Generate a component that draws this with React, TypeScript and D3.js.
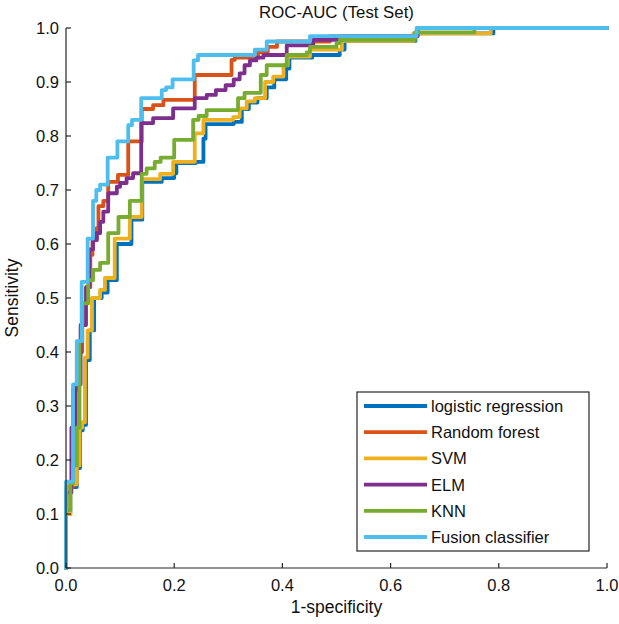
import React from "react";
import * as d3 from "d3";

const seriesNames = ["logistic regression", "Random forest", "SVM", "ELM", "KNN", "Fusion classifier"];
const seriesColors = ["#0072BD", "#D95319", "#EDB120", "#7E2F8E", "#77AC30", "#4DBEEE"];

// step points: [fpr where the curve rises, tpr after rising]
const logisticSteps: [number, number][] = [
  [0, 0.1], [0.008, 0.15], [0.02, 0.185], [0.026, 0.255], [0.031, 0.265], [0.037, 0.385],
  [0.044, 0.44], [0.052, 0.5], [0.066, 0.51], [0.077, 0.533], [0.094, 0.6], [0.121, 0.645],
  [0.141, 0.715], [0.177, 0.722], [0.2, 0.731], [0.204, 0.75], [0.24, 0.752], [0.254, 0.795],
  [0.258, 0.822], [0.31, 0.826], [0.325, 0.85], [0.338, 0.862], [0.354, 0.87], [0.371, 0.89],
  [0.385, 0.905], [0.407, 0.925], [0.413, 0.945], [0.455, 0.95], [0.506, 0.96], [0.515, 0.976],
  [0.646, 0.99], [0.79, 1.0],
];
const forestSteps: [number, number][] = [
  [0, 0.15], [0.013, 0.33], [0.02, 0.4], [0.03, 0.49], [0.038, 0.52], [0.045, 0.58],
  [0.049, 0.61], [0.057, 0.63], [0.06, 0.67], [0.069, 0.68], [0.078, 0.715], [0.096, 0.728],
  [0.115, 0.79], [0.14, 0.85], [0.161, 0.857], [0.18, 0.867], [0.238, 0.913], [0.306, 0.941],
  [0.312, 0.945], [0.355, 0.955], [0.373, 0.965], [0.39, 0.975], [0.488, 0.985], [0.65, 1.0],
];
const svmSteps: [number, number][] = [
  [0, 0.1], [0.008, 0.155], [0.02, 0.19], [0.025, 0.26], [0.03, 0.27], [0.035, 0.39],
  [0.04, 0.44], [0.048, 0.5], [0.063, 0.515], [0.072, 0.537], [0.09, 0.61], [0.118, 0.65],
  [0.14, 0.72], [0.174, 0.73], [0.198, 0.752], [0.238, 0.805], [0.254, 0.83], [0.309, 0.835],
  [0.321, 0.851], [0.334, 0.864], [0.349, 0.87], [0.368, 0.9], [0.383, 0.91], [0.402, 0.931],
  [0.41, 0.947], [0.451, 0.96], [0.51, 0.976], [0.642, 0.99], [0.785, 1.0],
];
const elmSteps: [number, number][] = [
  [0, 0.14], [0.01, 0.26], [0.018, 0.34], [0.027, 0.45], [0.037, 0.52], [0.043, 0.59],
  [0.05, 0.607], [0.057, 0.62], [0.063, 0.641], [0.069, 0.66], [0.078, 0.694], [0.094, 0.706],
  [0.1, 0.713], [0.112, 0.722], [0.124, 0.731], [0.139, 0.824], [0.161, 0.833], [0.198, 0.851],
  [0.238, 0.87], [0.26, 0.876], [0.277, 0.885], [0.295, 0.894], [0.31, 0.905], [0.321, 0.916],
  [0.33, 0.931], [0.34, 0.94], [0.352, 0.945], [0.365, 0.95], [0.408, 0.968], [0.457, 0.978],
  [0.51, 0.985], [0.65, 1.0],
];
const knnSteps: [number, number][] = [
  [0, 0.107], [0.008, 0.157], [0.013, 0.19], [0.02, 0.26], [0.025, 0.42], [0.03, 0.49],
  [0.041, 0.533], [0.05, 0.552], [0.063, 0.565], [0.078, 0.62], [0.097, 0.65], [0.118, 0.68],
  [0.14, 0.73], [0.149, 0.74], [0.164, 0.752], [0.175, 0.76], [0.2, 0.793], [0.235, 0.83],
  [0.245, 0.837], [0.26, 0.848], [0.318, 0.87], [0.33, 0.88], [0.36, 0.913], [0.371, 0.931],
  [0.408, 0.95], [0.445, 0.955], [0.451, 0.965], [0.5, 0.972], [0.506, 0.978], [0.645, 0.992],
  [0.755, 1.0],
];
const fusionSteps: [number, number][] = [
  [0, 0.16], [0.013, 0.34], [0.02, 0.42], [0.029, 0.53], [0.04, 0.61], [0.05, 0.68],
  [0.056, 0.7], [0.063, 0.71], [0.077, 0.76], [0.095, 0.79], [0.115, 0.82], [0.122, 0.83],
  [0.139, 0.87], [0.177, 0.885], [0.185, 0.89], [0.197, 0.905], [0.236, 0.94], [0.244, 0.95],
  [0.349, 0.96], [0.371, 0.975], [0.451, 0.985], [0.648, 1.0],
];

const allSteps = [logisticSteps, forestSteps, svmSteps, elmSteps, knnSteps, fusionSteps];

const xTicks = [0, 0.2, 0.4, 0.6, 0.8, 1.0];
const yTicks = [0, 0.1, 0.2, 0.3, 0.4, 0.5, 0.6, 0.7, 0.8, 0.9, 1.0];

const titleText = "ROC-AUC (Test Set)";
const xLabelText = "1-specificity";
const yLabelText = "Sensitivity";

const W = 619;
const H = 624;
const FONT = "'Liberation Sans', Arial, Helvetica, sans-serif";
const AXIS = "#262626";

export default function App() {
  const x = d3.scaleLinear().domain([0, 1]).range([66, 607]);
  const y = d3.scaleLinear().domain([0, 1]).range([568, 28]);
  const fmt = d3.format(".1f");

  const toPath = (steps: [number, number][]) => {
    const pts: [number, number][] = [[0, 0]];
    let prev = 0;
    for (const [sx, sy] of steps) {
      pts.push([sx, prev]);
      pts.push([sx, sy]);
      prev = sy;
    }
    pts.push([1, prev]);
    const line = d3
      .line<[number, number]>()
      .x((d) => x(d[0]))
      .y((d) => y(d[1]));
    return line(pts) || "";
  };

  const legend = { x0: 357, y0: 392, w: 232, h: 159, row0: 406, rowH: 26.2 };

  return (
    <svg
      width={W}
      height={H}
      style={{ position: "absolute", left: 0, top: 0, background: "#fff" }}
      fontFamily={FONT}
    >
      <rect x={0} y={0} width={W} height={H} fill="#fff" />
      {allSteps.map((s, i) => (
        <path
          key={i}
          d={toPath(s)}
          fill="none"
          stroke={seriesColors[i]}
          strokeWidth={3.8}
          strokeLinejoin="round"
          strokeLinecap="round"
        />
      ))}

      {/* axes */}
      <line x1={x(0)} x2={x(1)} y1={y(0)} y2={y(0)} stroke={AXIS} strokeWidth={1.2} />
      <line x1={x(0)} x2={x(0)} y1={y(0)} y2={y(1)} stroke={AXIS} strokeWidth={1.2} />
      {xTicks.map((t) => (
        <g key={"x" + t}>
          <line x1={x(t)} x2={x(t)} y1={y(0)} y2={y(0) - 5} stroke={AXIS} strokeWidth={1.2} />
          <text x={x(t)} y={y(0) + 23} textAnchor="middle" fontSize={16.5} fill="#111">
            {fmt(t)}
          </text>
        </g>
      ))}
      {yTicks.map((t) => (
        <g key={"y" + t}>
          <line x1={x(0)} x2={x(0) + 5} y1={y(t)} y2={y(t)} stroke={AXIS} strokeWidth={1.2} />
          <text x={x(0) - 7} y={y(t) + 6} textAnchor="end" fontSize={16.5} fill="#111">
            {fmt(t)}
          </text>
        </g>
      ))}

      <text x={(x(0) + x(1)) / 2} y={18} textAnchor="middle" fontSize={16.8} fill="#111">
        {titleText}
      </text>
      <text x={(x(0) + x(1)) / 2} y={613} textAnchor="middle" fontSize={17.5} fill="#111">
        {xLabelText}
      </text>
      <text
        transform={`translate(18, ${(y(0) + y(1)) / 2}) rotate(-90)`}
        textAnchor="middle"
        fontSize={17.5}
        fill="#111"
      >
        {yLabelText}
      </text>

      {/* legend */}
      <rect
        x={legend.x0}
        y={legend.y0}
        width={legend.w}
        height={legend.h}
        fill="#fff"
        stroke={AXIS}
        strokeWidth={1.2}
      />
      {seriesNames.map((n, i) => {
        const ry = legend.row0 + i * legend.rowH;
        return (
          <g key={n}>
            <line x1={364} x2={427} y1={ry} y2={ry} stroke={seriesColors[i]} strokeWidth={3.8} />
            <text x={431} y={ry + 6} fontSize={16.5} fill="#111">
              {n}
            </text>
          </g>
        );
      })}
    </svg>
  );
}
